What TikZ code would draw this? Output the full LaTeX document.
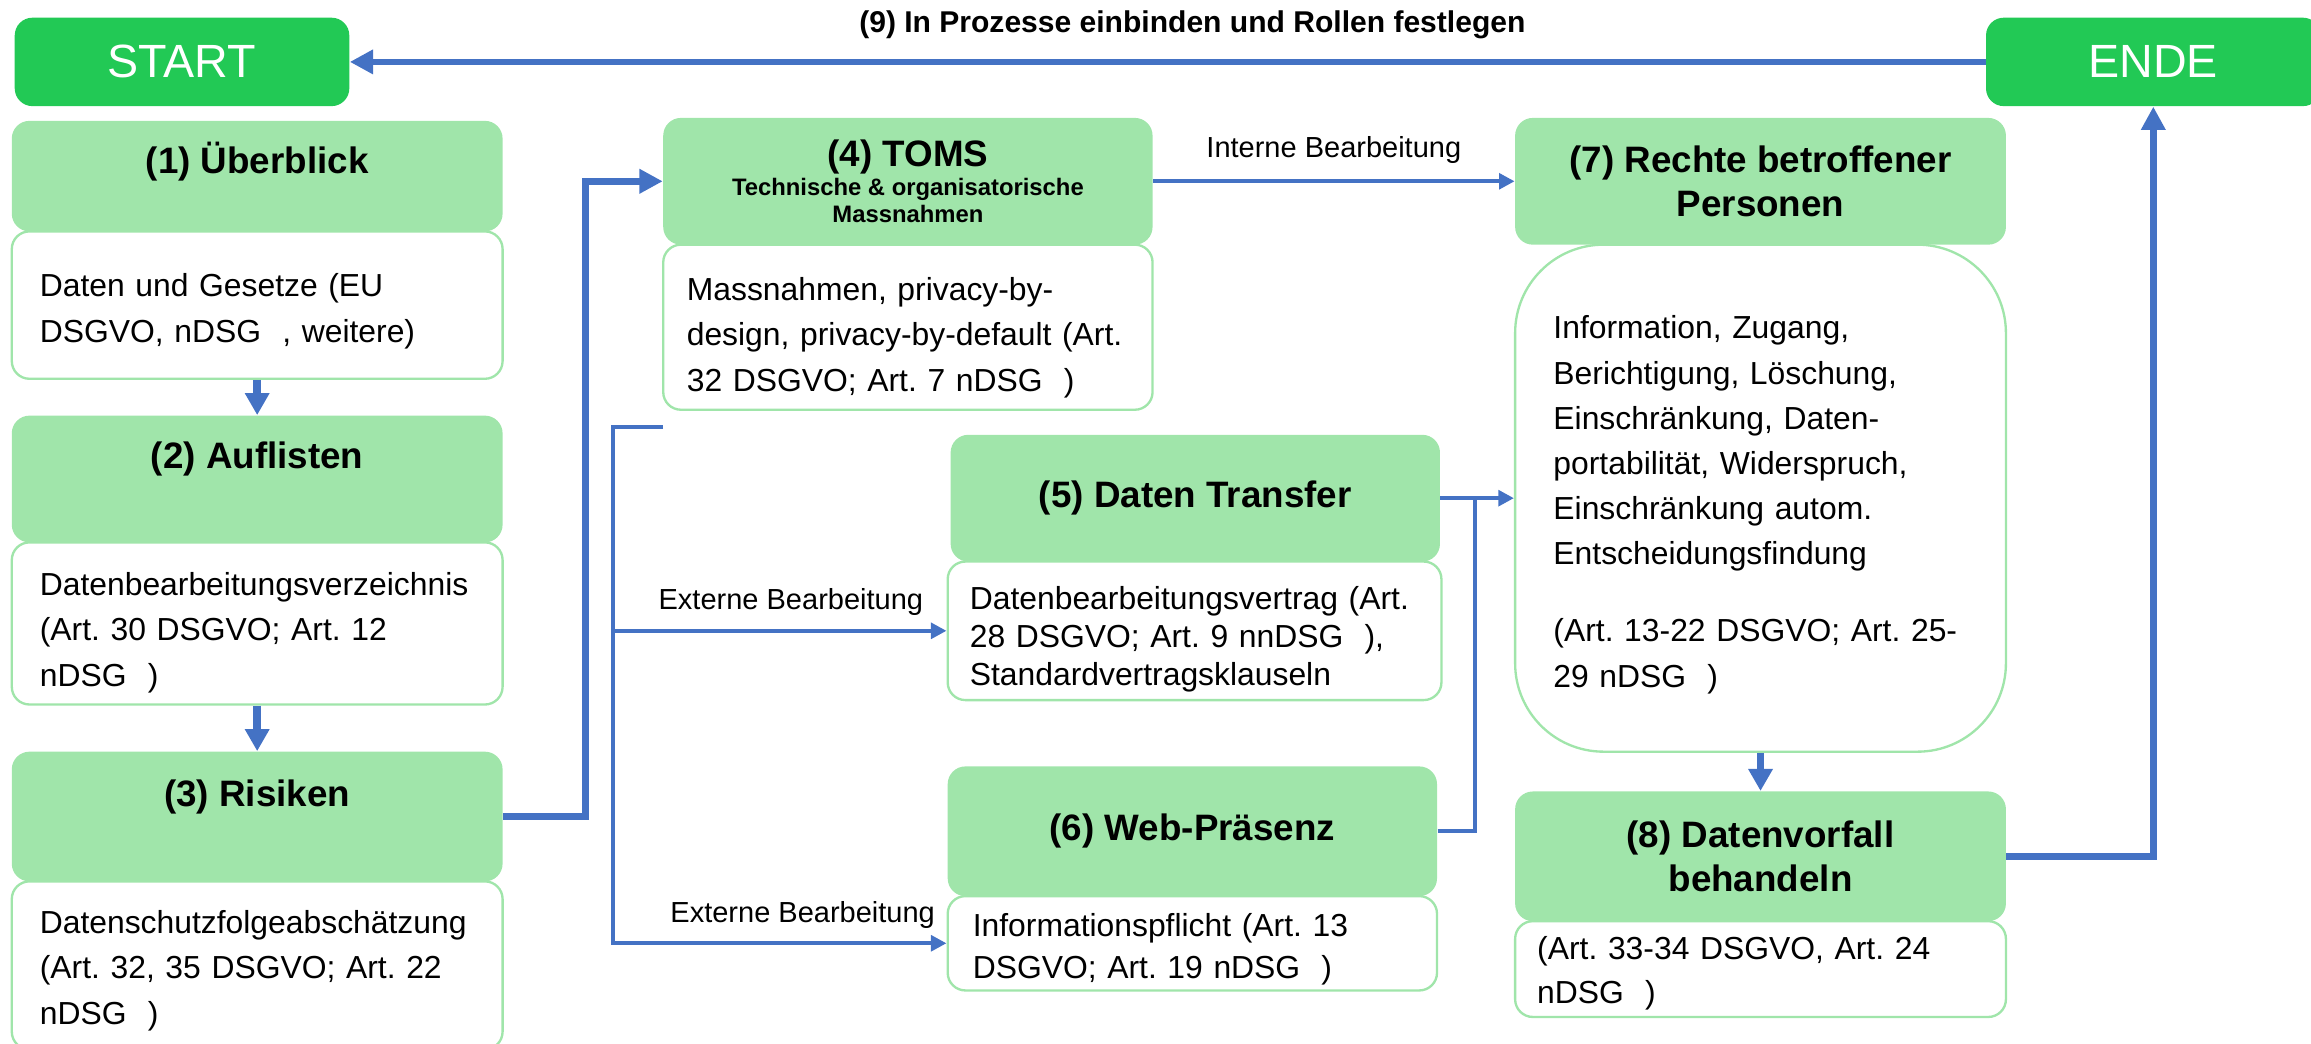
\documentclass[tikz,border=0pt]{standalone}
\usepackage{fontspec}
\setmainfont{Liberation Sans}
\usetikzlibrary{arrows.meta}

\definecolor{hdgreen}{HTML}{A0E5AA}
\definecolor{stgreen}{HTML}{22C955}
\definecolor{flowblue}{HTML}{4472C4}

\newcommand{\hdfont}{\bfseries\fontsize{14.2}{17}\selectfont}
\newcommand{\txfont}{\fontsize{12.3}{17.6}\selectfont\hyphenpenalty=10000}
\newcommand{\subfont}{\fontsize{9.2}{11}\selectfont}
\newcommand{\tstrut}[1]{\rule{0pt}{#1}}
\frenchspacing

\begin{document}
\begin{tikzpicture}[x=0.2mm, y=-0.2mm,
    hdbox/.style={fill=hdgreen, rounded corners=2.4mm, align=center, font=\hdfont, inner sep=0pt, minimum width=66.6mm},
    txbox/.style={draw=hdgreen, line width=0.9pt, fill=white, rounded corners=2.4mm, align=left, font=\txfont, inner ysep=1pt},
    endbox/.style={fill=stgreen, rounded corners=2.4mm, text=white, font=\fontsize{18}{20}\selectfont, minimum width=45.4mm, minimum height=12mm},
    bigarrow/.style={draw=flowblue, line width=2.5pt, -{Triangle[length=9pt,width=9pt]}},
    downarrow/.style={draw=flowblue, line width=2.9pt, -{Triangle[length=8.5pt,width=9pt]}},
    thinline/.style={draw=flowblue, line width=1.5pt},
    thinarrow/.style={thinline, -{Triangle[length=6pt,width=6pt]}},
    flowlbl/.style={font=\fontsize{11.2}{13}\selectfont}
]
    \useasboundingbox (0,0) rectangle (1568,708);

    % Start und Ende
    \node[endbox] (start) at (123.5,42) {START};
    \node[endbox] (ende) at (1461,42) {ENDE};
    \node[font=\bfseries\fontsize{11.6}{14}\selectfont] (lbl9) at (809,17) {(9) In Prozesse einbinden und Rollen festlegen};

    % Linke Spalte
    \node[hdbox, minimum height=15mm, text depth=14.4pt] (h1) at (174.5,119.5) {(1) Überblick};
    \node[txbox, minimum width=66.6mm, minimum height=20mm, inner xsep=3.8mm, text width=59mm] (b1) at (174.5,207)
        {\tstrut{13.5pt}Daten und Gesetze (EU\\DSGVO, nDSG\ \ , weitere)};
    \node[hdbox, minimum height=17.2mm, text depth=18.4pt] (h2) at (174.5,325) {(2) Auflisten};
    \node[txbox, minimum width=66.6mm, minimum height=22mm, inner xsep=3.8mm, text width=59mm] (b2) at (174.5,423)
        {\tstrut{16pt}Datenbearbeitungsverzeichnis\\(Art. 30 DSGVO; Art. 12\\nDSG\ \ )};
    \node[hdbox, minimum height=17.6mm, text depth=18.4pt] (h3) at (174.5,554) {(3) Risiken};
    \node[txbox, minimum width=66.6mm, minimum height=22.8mm, inner xsep=3.8mm, text width=59mm] (b3) at (174.5,655)
        {\tstrut{13pt}Datenschutzfolgeabschätzung\\(Art. 32, 35 DSGVO; Art. 22\\nDSG\ \ )};

    % Mitte
    \node[hdbox, minimum width=66.4mm, minimum height=17.2mm] (h4) at (616,123)
        {(4) TOMS\\[-5.8pt]{\subfont Technische \& organisatorische}\\[-6.2pt]{\subfont Massnahmen}};
    \node[txbox, minimum width=66.4mm, minimum height=22.4mm, inner xsep=3.2mm, text width=60mm] (b4) at (616,222)
        {\tstrut{17pt}Massnahmen, privacy-by-\\design, privacy-by-default (Art.\\32 DSGVO; Art. 7 nDSG\ \ )};
    \node[hdbox, minimum width=66.4mm, minimum height=17.2mm] (h5) at (811,338) {(5) Daten Transfer};
    \node[txbox, minimum width=67mm, minimum height=18.8mm, inner xsep=3mm, text width=61mm, font=\fontsize{12.3}{14.8}\selectfont] (b5) at (810.5,428)
        {\tstrut{15.5pt}Datenbearbeitungsvertrag (Art.\\28 DSGVO; Art. 9 nnDSG\ \ ),\\Standardvertragsklauseln};
    \node[hdbox, minimum width=66.4mm, minimum height=17.6mm] (h6) at (809,564) {(6) Web-Präsenz};
    \node[txbox, minimum width=66.4mm, minimum height=12.8mm, inner xsep=3.4mm, text width=59.6mm, font=\fontsize{12.3}{16}\selectfont] (b6) at (809,640)
        {\tstrut{13.5pt}Informationspflicht (Art. 13\\DSGVO; Art. 19 nDSG\ \ )};

    % Rechte Spalte
    \node[hdbox, minimum height=17.2mm] (h7) at (1194.5,123) {(7) Rechte betroffener\\Personen};
    \node[txbox, minimum width=66.6mm, minimum height=68.8mm, inner xsep=5.2mm, text width=56.2mm, rounded corners=12mm, font=\fontsize{12.3}{17.4}\selectfont] (b7) at (1194.5,338)
        {\tstrut{14pt}Information, Zugang,\\Berichtigung, Löschung,\\Einschränkung, Daten-\\portabilität, Widerspruch,\\Einschränkung autom.\\Entscheidungsfindung\\[12.6pt](Art. 13-22 DSGVO; Art. 25-\\29 nDSG\ \ )};
    \node[hdbox, minimum height=17.6mm] (h8) at (1194.5,581) {(8) Datenvorfall\\behandeln};
    \node[txbox, minimum width=66.6mm, minimum height=13mm, inner xsep=3mm, text width=60.6mm, font=\fontsize{12.3}{17}\selectfont] (b8) at (1194.5,657.5)
        {\tstrut{12.5pt}(Art. 33-34 DSGVO, Art. 24\\nDSG\ \ )};

    % Pfeile
    \draw[bigarrow] (ende.west) -- (start.east);
    \draw[downarrow] (b1.south) -- (h2.north);
    \draw[downarrow] (b2.south) -- (h3.north);
    \draw[bigarrow] (h3.east) -- ++(56,0) |- (h4.west);
    \draw[thinarrow] (h4.east) -- node[flowlbl, above=1mm] (lblint) {Interne Bearbeitung} (h7.west);

    % Externe Bearbeitung
    \coordinate (brtop) at (450,290);
    \coordinate (brknee) at (416,290);
    \draw[thinarrow] (brtop) -- (brknee) |- node[pos=0.75, flowlbl, above=0.6mm, xshift=3.1mm] (lblext2) {Externe Bearbeitung} (b6.west);
    \draw[thinarrow] (brknee |- b5.west) -- node[flowlbl, above=0.6mm, xshift=1.5mm] (lblext1) {Externe Bearbeitung} (b5.west);

    % Transfer zu Rechte
    \coordinate (tfjoin) at (1001,338);
    \draw[thinarrow] (h5.east) -- (b7.west);
    \draw[thinline] (h6.east) -| (tfjoin);

    \draw[downarrow] (b7.south) -- (h8.north);
    \draw[bigarrow] (h8.east) -| (ende.south);
\end{tikzpicture}
\end{document}
